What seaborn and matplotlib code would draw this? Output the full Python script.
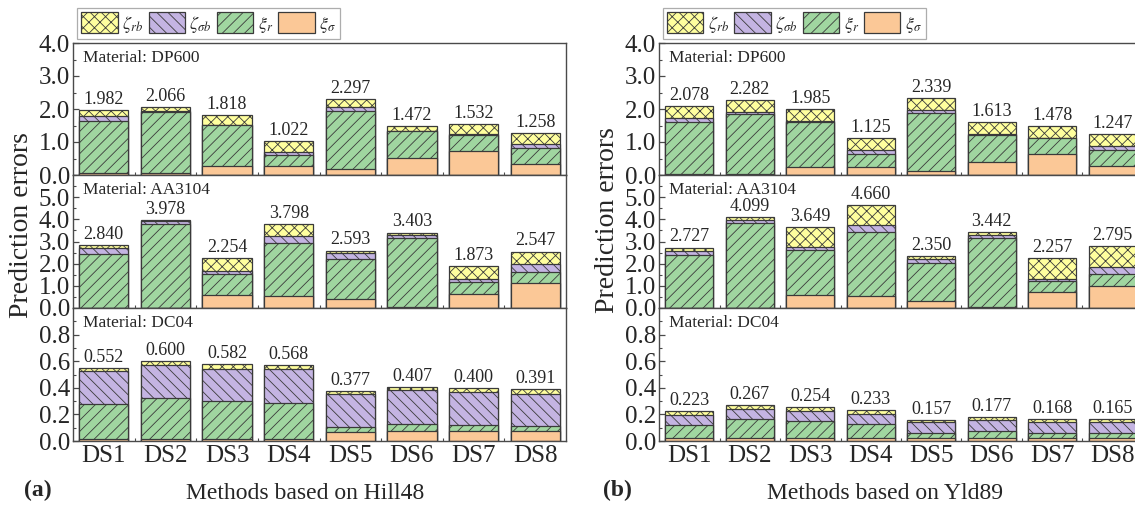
import numpy as np
import matplotlib
matplotlib.use("Agg")
import matplotlib.pyplot as plt
import seaborn as sns
from matplotlib.patches import Patch
from matplotlib.ticker import MultipleLocator, FormatStrFormatter, FixedLocator

# ---------------- data ----------------
methods = ["DS1", "DS2", "DS3", "DS4", "DS5", "DS6", "DS7", "DS8"]
materials = ["DP600", "AA3104", "DC04"]

# Hill48 based methods; rows: DP600, AA3104, DC04
hill48_xi_sigma = [[0.05, 0.05, 0.27, 0.27, 0.18, 0.52, 0.73, 0.33],
                   [0.02, 0.02, 0.58, 0.55, 0.42, 0.06, 0.64, 1.12],
                   [0.015, 0.015, 0.015, 0.015, 0.070, 0.075, 0.075, 0.072]]
hill48_xi_r = [[1.58, 1.85, 1.25, 0.33, 1.75, 0.80, 0.49, 0.49],
               [2.41, 3.76, 0.96, 2.36, 1.77, 3.12, 0.52, 0.52],
               [0.265, 0.310, 0.285, 0.273, 0.037, 0.055, 0.045, 0.040]]
hill48_zeta_sigma_b = [[0.15, 0.03, 0.01, 0.10, 0.14, 0.02, 0.01, 0.13],
                       [0.26, 0.15, 0.13, 0.33, 0.27, 0.13, 0.15, 0.33],
                       [0.250, 0.250, 0.245, 0.250, 0.248, 0.250, 0.250, 0.245]]
hill48_zeta_rb = [[0.202, 0.136, 0.288, 0.322, 0.227, 0.132, 0.302, 0.308],
                  [0.150, 0.048, 0.584, 0.558, 0.133, 0.093, 0.563, 0.577],
                  [0.022, 0.025, 0.037, 0.030, 0.022, 0.027, 0.030, 0.034]]
hill48_total = [[1.982, 2.066, 1.818, 1.022, 2.297, 1.472, 1.532, 1.258],
                [2.840, 3.978, 2.254, 3.798, 2.593, 3.403, 1.873, 2.547],
                [0.552, 0.600, 0.582, 0.568, 0.377, 0.407, 0.400, 0.391]]

# Yld89 based methods; rows: DP600, AA3104, DC04
yld89_xi_sigma = [[0.04, 0.04, 0.24, 0.24, 0.11, 0.38, 0.64, 0.28],
                  [0.02, 0.02, 0.59, 0.55, 0.30, 0.03, 0.70, 1.01],
                  [0.020, 0.020, 0.020, 0.020, 0.025, 0.025, 0.025, 0.025]]
yld89_xi_r = [[1.58, 1.81, 1.38, 0.40, 1.76, 0.82, 0.47, 0.47],
              [2.38, 3.83, 2.04, 2.88, 1.73, 3.12, 0.51, 0.54],
              [0.103, 0.148, 0.128, 0.108, 0.032, 0.049, 0.032, 0.032]]
yld89_zeta_sigma_b = [[0.10, 0.07, 0.02, 0.12, 0.10, 0.05, 0.01, 0.12],
                      [0.19, 0.14, 0.11, 0.31, 0.16, 0.13, 0.12, 0.30],
                      [0.075, 0.074, 0.079, 0.077, 0.083, 0.081, 0.083, 0.083]]
yld89_zeta_rb = [[0.358, 0.362, 0.345, 0.365, 0.369, 0.363, 0.358, 0.377],
                 [0.137, 0.109, 0.909, 0.920, 0.160, 0.162, 0.927, 0.945],
                 [0.025, 0.025, 0.027, 0.028, 0.017, 0.022, 0.028, 0.025]]
yld89_total = [[2.078, 2.282, 1.985, 1.125, 2.339, 1.613, 1.478, 1.247],
               [2.727, 4.099, 3.649, 4.660, 2.350, 3.442, 2.257, 2.795],
               [0.223, 0.267, 0.254, 0.233, 0.157, 0.177, 0.168, 0.165]]

panel_xlabels = ["Methods based on Hill48", "Methods based on Yld89"]
panel_tags = ["(a)", "(b)"]
legend_labels = [r"$\zeta_{rb}$", r"$\zeta_{\sigma b}$", r"$\xi_{r}$", r"$\xi_{\sigma}$"]

# ---------------- style ----------------
sns.set_style("ticks")
plt.rcParams["font.family"] = ["Liberation Serif", "DejaVu Serif"]
plt.rcParams["mathtext.fontset"] = "stix"
plt.rcParams["hatch.linewidth"] = 0.6

C_SIG = "#FBC897"
C_R = "#A0D6A0"
C_SB = "#C4B4E2"
C_RB = "#FFFF9E"
EDGE = "#3a3a3a"
SPINE = "#4a4a4a"
H_R = "///"
H_SB = "\\\\\\"
H_RB = "xxx"

W, H = 1135, 512
fig = plt.figure(figsize=(W / 100, H / 100), dpi=100)

ylims = [4.0, 6.0, 1.0]
ymajor = [np.arange(0, 4.01, 1.0), np.arange(0, 5.01, 1.0), np.arange(0, 0.81, 0.2)]
yminor = [0.5, 0.5, 0.1]

rows_px = [(43, 175), (175, 308), (308, 441)]
cols_px = [(73, 566), (659, 1143)]

panels = [
    (hill48_xi_sigma, hill48_xi_r, hill48_zeta_sigma_b, hill48_zeta_rb, hill48_total),
    (yld89_xi_sigma, yld89_xi_r, yld89_zeta_sigma_b, yld89_zeta_rb, yld89_total),
]

for p, (xs_all, xr_all, zsb_all, zrb_all, tot_all) in enumerate(panels):
    x0, x1 = cols_px[p]
    axes = []
    for r in range(3):
        y0, y1 = rows_px[r]
        ax = fig.add_axes([x0 / W, 1 - y1 / H, (x1 - x0) / W, (y1 - y0) / H])
        axes.append(ax)
        xs = np.array(xs_all[r])
        xr = np.array(xr_all[r])
        zsb = np.array(zsb_all[r])
        zrb = np.array(zrb_all[r])
        layers = [
            (xs + xr + zsb + zrb, C_RB, H_RB),
            (xs + xr + zsb, C_SB, H_SB),
            (xs + xr, C_R, H_R),
            (xs, C_SIG, ""),
        ]
        for h, c, hat in layers:
            sns.barplot(x=methods, y=h, color=c, hatch=hat, edgecolor=EDGE,
                        linewidth=0.9, width=0.8, saturation=1, errorbar=None, ax=ax)
        for i, t in enumerate(tot_all[r]):
            ax.annotate(f"{t:.3f}", (i, t), xytext=(0, 1.5), textcoords="offset points",
                        ha="center", va="bottom", fontsize=13)
        ax.set_xlim(-0.5, 7.5)
        ax.set_ylim(0, ylims[r])
        ax.yaxis.set_major_locator(FixedLocator(ymajor[r]))
        ax.yaxis.set_minor_locator(MultipleLocator(yminor[r]))
        ax.yaxis.set_major_formatter(FormatStrFormatter("%.1f"))
        ax.xaxis.set_minor_locator(FixedLocator(np.arange(0.5, 7.0, 1.0)))
        ax.tick_params(axis="both", which="major", direction="in", length=4,
                       width=0.9, color=SPINE, labelsize=18, pad=2)
        ax.tick_params(axis="both", which="minor", direction="in", length=2,
                       width=0.8, color=SPINE)
        ax.tick_params(axis="x", labelsize=18, pad=3)
        if r < 2:
            ax.tick_params(axis="x", labelbottom=False)
        ax.set_xlabel("")
        ax.set_ylabel("")
        for s in ax.spines.values():
            s.set_visible(True)
            s.set_color(SPINE)
            s.set_linewidth(1.0)
        ax.text(0.02, 0.89, f"Material: {materials[r]}", transform=ax.transAxes,
                fontsize=12.5, va="center", ha="left")

    handles = [Patch(facecolor=C_RB, edgecolor=EDGE, hatch=H_RB, linewidth=0.9),
               Patch(facecolor=C_SB, edgecolor=EDGE, hatch=H_SB, linewidth=0.9),
               Patch(facecolor=C_R, edgecolor=EDGE, hatch=H_R, linewidth=0.9),
               Patch(facecolor=C_SIG, edgecolor=EDGE, linewidth=0.9)]
    leg = axes[0].legend(handles, legend_labels, loc="lower left", bbox_to_anchor=(0.008, 1.03),
                         ncol=4, frameon=True, fancybox=False, fontsize=13,
                         handlelength=2.0, handleheight=1.35, handletextpad=0.25,
                         columnspacing=0.3, borderpad=0.25, borderaxespad=0.0)
    leg.get_frame().set_edgecolor("#999999")
    leg.get_frame().set_linewidth(0.9)

fig.text(0.019, 0.56, "Prediction errors", rotation=90, ha="center", va="center", fontsize=20)
fig.text(0.535, 0.57, "Prediction errors", rotation=90, ha="center", va="center", fontsize=20)
fig.text(0.269, 0.037, panel_xlabels[0], ha="center", va="center", fontsize=17)
fig.text(0.78, 0.037, panel_xlabels[1], ha="center", va="center", fontsize=17)
fig.text(0.033, 0.043, panel_tags[0], ha="center", va="center", fontsize=17, fontweight="bold")
fig.text(0.544, 0.043, panel_tags[1], ha="center", va="center", fontsize=17, fontweight="bold")

fig.savefig("out.png", dpi=100)
